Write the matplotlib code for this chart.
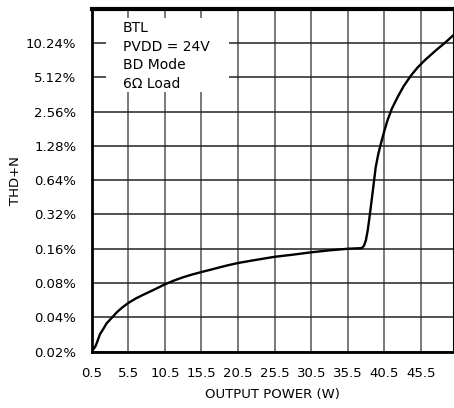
import matplotlib
matplotlib.use("Agg")
import matplotlib.pyplot as plt
from matplotlib.patches import Rectangle

# THD+N vs output power
power = [0.5, 0.72, 1.0, 1.18, 1.63, 2.13, 2.54, 3.3, 3.95, 4.7, 5.5, 6.5,
         7.5, 8.5, 9.5, 10.5, 11.7, 13.0, 14.2, 15.5, 16.8, 18.0, 19.2, 20.5,
         23.0, 25.5, 28.0, 30.5, 33.0, 35.5, 37.4, 37.7, 37.96, 38.2, 38.4,
         38.65, 38.86, 39.1, 39.3, 39.65, 40.0, 40.45, 40.9, 41.5, 42.27, 43.1,
         44.1, 45.0, 45.9, 46.8, 47.7, 48.8, 50.0]
thd = [0.0205, 0.021, 0.0222, 0.0237, 0.0285, 0.032, 0.0355, 0.040, 0.0445,
       0.049, 0.0535, 0.0585, 0.063, 0.0675, 0.0725, 0.078, 0.084, 0.090,
       0.095, 0.100, 0.105, 0.110, 0.115, 0.120, 0.128, 0.136, 0.142, 0.149,
       0.155, 0.160, 0.162, 0.17, 0.19, 0.23, 0.284, 0.38, 0.486, 0.65, 0.83,
       1.08, 1.33, 1.7, 2.13, 2.7, 3.4, 4.25, 5.27, 6.2, 7.1, 8.0, 9.0, 10.3,
       12.1]

x_ticks = [0.5, 5.5, 10.5, 15.5, 20.5, 25.5, 30.5, 35.5, 40.5, 45.5]
y_ticks = [0.02, 0.04, 0.08, 0.16, 0.32, 0.64, 1.28, 2.56, 5.12, 10.24]
y_labels = ["0.02%", "0.04%", "0.08%", "0.16%", "0.32%", "0.64%",
            "1.28%", "2.56%", "5.12%", "10.24%"]

plt.rcParams['font.family'] = ['DejaVu Sans']

fig = plt.figure(figsize=(4.54, 4.08), dpi=100)
ax = fig.add_axes([0.202, 0.138, 0.798, 0.841])

ax.set_yscale('log', base=2)
ax.set_xlim(0.5, 50)
ax.set_ylim(0.02, 20.48)

ax.set_xticks(x_ticks)
ax.set_xticklabels([str(t) for t in x_ticks])
ax.set_yticks(y_ticks)
ax.set_yticklabels(y_labels)
ax.minorticks_off()
ax.tick_params(length=0, labelsize=9.5, colors='black')
ax.tick_params(axis='y', pad=11)
ax.tick_params(axis='x', pad=11)

ax.grid(True, axis='y', color='#222222', lw=1.1)
ax.grid(True, axis='x', color='#555555', lw=1.1)
ax.set_axisbelow(True)

ax.spines['top'].set_linewidth(3.0)
ax.spines['left'].set_linewidth(2.0)
ax.spines['bottom'].set_linewidth(2.0)
ax.spines['right'].set_linewidth(1.5)

ax.plot(power, thd, color='black', lw=1.7, zorder=4)

# white box behind the annotation
ax.add_patch(Rectangle((0.039, 0.757), 0.34, 0.215, transform=ax.transAxes,
                       facecolor='white', edgecolor='none', zorder=2))
ax.text(0.086, 0.965, "BTL\nPVDD = 24V\nBD Mode\n6\u03a9 Load",
        transform=ax.transAxes, ha='left', va='top', fontsize=10,
        linespacing=1.45, zorder=3)

ax.set_xlabel("OUTPUT POWER (W)", fontsize=9.5, labelpad=6)
ax.set_ylabel("THD+N", fontsize=9.5, labelpad=3)

fig.savefig("out.png", dpi=100)
